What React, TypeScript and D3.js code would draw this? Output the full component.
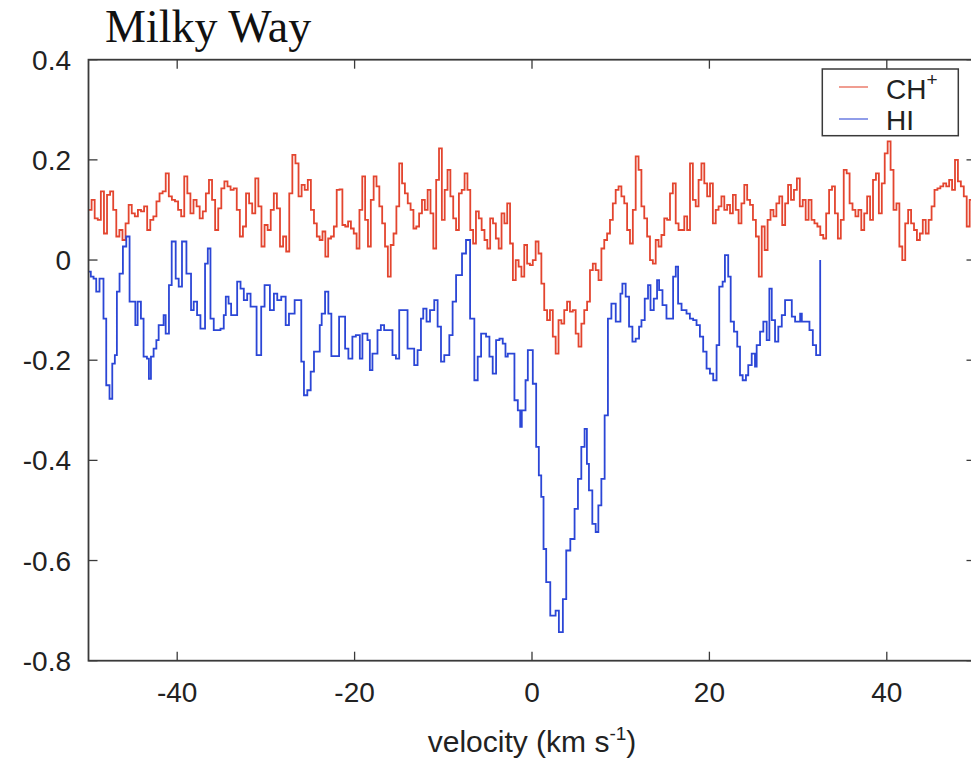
import React from "react";
import * as d3 from "d3";

// ---------- data ----------
const xTicks = [-40, -20, 0, 20, 40];
const yTicks = [0.4, 0.2, 0, -0.2, -0.4, -0.6, -0.8];

// CH+ spectrum, four contiguous velocity segments with equal-width channels
const chBreaks = [-50, -24.58, 0.09, 24.58, 50];
const chSeg1 = [0.10,0.12,0.083,0.08,0.137,0.053,0.13,0.137,0.10,0.047,
 0.06,0.04,0.073,0.11,0.093,0.087,0.10,0.097,0.107,0.06,
 0.08,0.087,0.117,0.133,0.137,0.173,0.127,0.12,0.117,0.10,
 0.087,0.167,0.133,0.093,0.12,0.107,0.083,0.097,0.133,0.16,
 0.12,0.06,0.103,0.143,0.157,0.147,0.14,0.143,0.10,0.047,
 0.067,0.133,0.113,0.093,0.163,0.107,0.027,0.07,0.06,0.10,
 0.133,0.103,0.027,0.047,0.017,0.133,0.21,0.193,0.127,0.15,
 0.14,0.16,0.10];
const chSeg2 = [0.073,0.047,0.04,0.057,0.007,0.043,0.047,0.067,0.14,0.141,
 0.07,0.067,0.077,0.063,0.053,0.023,0.10,0.167,0.08,0.027,
 0.12,0.167,0.147,0.107,0.073,0.027,-0.033,0.03,0.053,0.107,
 0.193,0.153,0.133,0.113,0.10,0.063,0.067,0.093,0.12,0.10,
 0.14,0.093,0.023,0.16,0.223,0.08,0.14,0.18,0.127,0.083,
 0.06,0.133,0.14,0.173,0.14,0.06,0.033,0.097,0.083,0.06,
 0.04,0.023,0.083,0.073,0.043,0.023,0.093,0.073,0.113,0.033,
 -0.04,0.0,-0.013,-0.033,0.03,-0.007,-0.01];
const chSeg3 = [0.0,0.037,0.013,-0.047,-0.10,-0.12,-0.10,-0.153,-0.187,-0.12,
 -0.127,-0.10,-0.083,-0.103,-0.10,-0.147,-0.173,-0.127,-0.10,-0.083,
 -0.02,-0.007,-0.02,-0.04,0.023,0.04,0.053,0.08,0.113,0.14,
 0.147,0.127,0.113,0.06,0.033,0.10,0.207,0.18,0.107,0.083,
 0.047,0.0,-0.007,0.04,0.027,0.05,0.083,0.08,0.133,0.153,
 0.073,0.06,0.06,0.087,0.06,0.193,0.12,0.107,0.16,0.193,
 0.153,0.127,0.153,0.073,0.10,0.107,0.127,0.10,0.11,0.093,
 0.13,0.10,0.073,0.113,0.15,0.12];
const chSeg4 = [0.11,0.08,0.047,-0.033,0.067,0.02,0.08,0.10,0.087,0.113,
 0.127,0.07,0.113,0.15,0.12,0.14,0.163,0.107,0.12,0.08,
 0.12,0.08,0.073,0.067,0.05,0.043,0.093,0.14,0.147,0.093,
 0.043,0.08,0.18,0.173,0.113,0.10,0.087,0.10,0.06,0.093,
 0.127,0.08,0.16,0.173,0.093,0.153,0.213,0.237,0.18,0.10,
 0.113,0.027,0.0,0.073,0.10,0.073,0.06,0.04,0.053,0.08,
 0.053,0.08,0.107,0.14,0.143,0.147,0.153,0.147,0.16,0.14,
 0.20,0.157,0.147,0.127,0.067,0.12,0.21];

// HI spectrum: channel start velocities and values
const hiVel = [-50.0,-49.74,-49.43,-49.13,-48.76,-48.31,-48.0,-47.63,-47.32,-47.03,
 -46.8,-46.5,-46.12,-45.74,-45.37,-44.72,-44.46,-44.09,-43.79,-43.41,
 -43.19,-42.96,-42.66,-42.35,-42.09,-41.53,-41.3,-40.93,-40.62,-40.17,
 -39.83,-39.46,-38.96,-38.44,-38.14,-37.76,-37.38,-36.86,-36.55,-36.25,
 -35.88,-35.12,-34.75,-34.52,-34.21,-33.92,-33.24,-32.86,-32.49,-32.11,
 -31.73,-31.05,-30.53,-30.15,-29.55,-29.1,-28.72,-28.27,-27.77,-27.4,
 -26.76,-26.01,-25.71,-25.33,-24.95,-24.58,-23.93,-23.71,-23.33,-22.96,
 -22.62,-21.75,-21.07,-20.7,-20.25,-19.86,-19.41,-19.12,-18.55,-18.28,
 -17.99,-17.42,-17.04,-16.67,-15.73,-15.34,-14.97,-14.03,-13.28,-12.9,
 -12.52,-12.26,-11.89,-11.5,-11.02,-10.64,-10.26,-9.89,-9.32,-8.95,
 -8.56,-7.89,-7.44,-6.98,-6.5,-6.12,-5.74,-5.18,-4.8,-4.43,
 -4.05,-3.67,-3.3,-2.99,-2.73,-1.98,-1.6,-1.33,-1.15,-0.73,
 -0.47,0.09,0.47,0.77,1.04,1.3,1.6,2.06,2.66,3.03,
 3.48,3.86,4.32,4.8,5.18,5.56,5.93,6.19,6.42,6.8,
 7.18,7.48,7.82,8.19,8.56,8.95,9.44,9.97,10.19,10.56,
 10.94,11.32,11.69,12.07,12.34,12.71,13.08,13.36,13.73,14.1,
 14.33,14.71,15.16,15.91,16.21,16.47,16.86,17.42,17.8,18.17,
 18.55,18.93,19.3,19.68,20.06,20.43,20.81,21.11,21.49,21.75,
 22.12,22.4,22.77,23.14,23.45,23.75,24.12,24.38,24.77,25.14,
 25.33,25.71,26.08,26.46,26.76,27.03,27.4,27.77,28.16,28.53,
 29.29,29.66,30.23,30.42,31.28,31.66,32.03];
const hiVal = [-0.023,-0.033,-0.037,-0.063,-0.037,-0.117,-0.25,-0.277,-0.207,-0.19,
 -0.063,-0.027,0.027,0.047,-0.083,-0.13,-0.083,-0.117,-0.193,-0.197,
 -0.237,-0.193,-0.177,-0.16,-0.13,-0.11,-0.147,-0.05,0.037,-0.037,
 -0.053,0.037,-0.027,-0.10,-0.083,-0.11,-0.137,-0.007,0.023,-0.117,
 -0.14,-0.137,-0.11,-0.073,-0.087,-0.11,-0.043,-0.057,-0.08,-0.067,
 -0.093,-0.19,-0.093,-0.05,-0.10,-0.067,-0.08,-0.073,-0.13,-0.107,
 -0.08,-0.203,-0.27,-0.26,-0.223,-0.183,-0.13,-0.107,-0.063,-0.107,
 -0.192,-0.113,-0.177,-0.197,-0.153,-0.15,-0.197,-0.147,-0.16,-0.22,
 -0.187,-0.14,-0.13,-0.14,-0.19,-0.197,-0.10,-0.177,-0.21,-0.18,
 -0.117,-0.097,-0.123,-0.10,-0.08,-0.133,-0.203,-0.19,-0.15,-0.083,
 -0.03,0.013,0.04,-0.117,-0.24,-0.193,-0.147,-0.153,-0.193,-0.227,
 -0.16,-0.157,-0.167,-0.193,-0.187,-0.28,-0.30,-0.333,-0.30,-0.24,
 -0.18,-0.247,-0.373,-0.43,-0.473,-0.577,-0.643,-0.71,-0.70,-0.743,
 -0.677,-0.58,-0.557,-0.497,-0.437,-0.373,-0.337,-0.407,-0.46,-0.527,
 -0.543,-0.49,-0.437,-0.31,-0.117,-0.087,-0.123,-0.067,-0.047,-0.073,
 -0.133,-0.163,-0.157,-0.133,-0.12,-0.077,-0.05,-0.10,-0.077,-0.04,
 -0.06,-0.09,-0.117,-0.033,-0.013,-0.087,-0.10,-0.107,-0.117,-0.12,
 -0.13,-0.153,-0.183,-0.217,-0.227,-0.24,-0.17,-0.053,-0.043,0.01,
 -0.033,-0.123,-0.143,-0.173,-0.23,-0.24,-0.23,-0.21,-0.187,-0.213,
 -0.17,-0.143,-0.123,-0.16,-0.057,-0.12,-0.163,-0.133,-0.11,-0.08,
 -0.113,-0.123,-0.107,-0.123,-0.14,-0.17,-0.19];
const hiEnd = 32.49;

const legendLabels = ["CH", "HI"];

// ---------- component ----------
const W = 971;
const H = 761;
const left = 88.5, right = 975.5, top = 59.7, bottom = 660.7;
const RED = "#e3452f";
const BLUE = "#2b46d6";
const AXIS = "#3a3a3a";
const SANS = "'Liberation Sans', Arial, Helvetica, sans-serif";

export default function App() {
  const x = d3.scaleLinear().domain([-50, 50]).range([left, right]);
  const y = d3.scaleLinear().domain([-0.8, 0.4]).range([bottom, top]);

  const chPts: [number, number][] = [];
  [chSeg1, chSeg2, chSeg3, chSeg4].forEach((seg, s) => {
    const v0 = chBreaks[s], v1 = chBreaks[s + 1];
    const step = (v1 - v0) / seg.length;
    seg.forEach((t, i) => chPts.push([v0 + i * step, t]));
  });
  chPts.push([chBreaks[chBreaks.length - 1], chSeg4[chSeg4.length - 1]]);

  const hiPts: [number, number][] = hiVel.map((v, i) => [v, hiVal[i]]);
  hiPts.push([hiEnd, hiVal[hiVal.length - 1]]);
  hiPts.push([hiEnd, 0]);

  const line = d3
    .line<[number, number]>()
    .x((d) => x(d[0]))
    .y((d) => y(d[1]))
    .curve(d3.curveStepAfter);

  const tickLen = 9;

  return (
    <svg
      width={W}
      height={H}
      style={{ position: "absolute", left: 0, top: 0, background: "#fff" }}
    >
      <rect x={0} y={0} width={W} height={H} fill="#fff" />
      <text
        x={105}
        y={42}
        fontFamily="'Liberation Serif', 'Times New Roman', serif"
        fontSize={46}
        fill="#111"
      >
        Milky Way
      </text>

      {/* data */}
      <path d={line(chPts) || ""} fill="none" stroke={RED} strokeWidth={1.8} strokeLinejoin="miter" />
      <path d={line(hiPts) || ""} fill="none" stroke={BLUE} strokeWidth={1.8} strokeLinejoin="miter" />

      {/* frame */}
      <rect
        x={left}
        y={top}
        width={right - left}
        height={bottom - top}
        fill="none"
        stroke={AXIS}
        strokeWidth={1.8}
      />

      {/* x ticks */}
      {xTicks.map((t) => (
        <g key={"x" + t}>
          <line x1={x(t)} x2={x(t)} y1={bottom} y2={bottom - tickLen} stroke={AXIS} strokeWidth={1.3} />
          <line x1={x(t)} x2={x(t)} y1={top} y2={top + tickLen} stroke={AXIS} strokeWidth={1.3} />
          <text
            x={x(t)}
            y={702}
            textAnchor="middle"
            fontFamily={SANS}
            fontSize={28}
            fill="#222"
          >
            {String(t)}
          </text>
        </g>
      ))}

      {/* y ticks */}
      {yTicks.map((t) => (
        <g key={"y" + t}>
          <line x1={left} x2={left + tickLen} y1={y(t)} y2={y(t)} stroke={AXIS} strokeWidth={1.3} />
          <line x1={right} x2={right - tickLen} y1={y(t)} y2={y(t)} stroke={AXIS} strokeWidth={1.3} />
          <text
            x={71}
            y={y(t) + 10}
            textAnchor="end"
            fontFamily={SANS}
            fontSize={28}
            fill="#222"
          >
            {t === 0 ? "0" : d3.format(".1f")(t).replace("−", "-")}
          </text>
        </g>
      ))}

      {/* x axis label */}
      <text x={532} y={752} textAnchor="middle" fontFamily={SANS} fontSize={30} fill="#222">
        velocity (km s
        <tspan fontSize={19} dy={-12}>-1</tspan>
        <tspan dy={12}>)</tspan>
      </text>

      {/* legend */}
      <rect x={822.3} y={69} width={136} height={66.7} fill="#fff" stroke={AXIS} strokeWidth={1.5} />
      <line x1={839} x2={868} y1={87} y2={87} stroke={RED} strokeWidth={1.4} opacity={0.75} />
      <line x1={839} x2={868} y1={119} y2={119} stroke={BLUE} strokeWidth={1.4} opacity={0.75} />
      <text x={886} y={99} fontFamily={SANS} fontSize={28} fill="#222">
        {legendLabels[0]}
        <tspan fontSize={19} dy={-13}>+</tspan>
      </text>
      <text x={886} y={130} fontFamily={SANS} fontSize={28} fill="#222">
        {legendLabels[1]}
      </text>
    </svg>
  );
}
